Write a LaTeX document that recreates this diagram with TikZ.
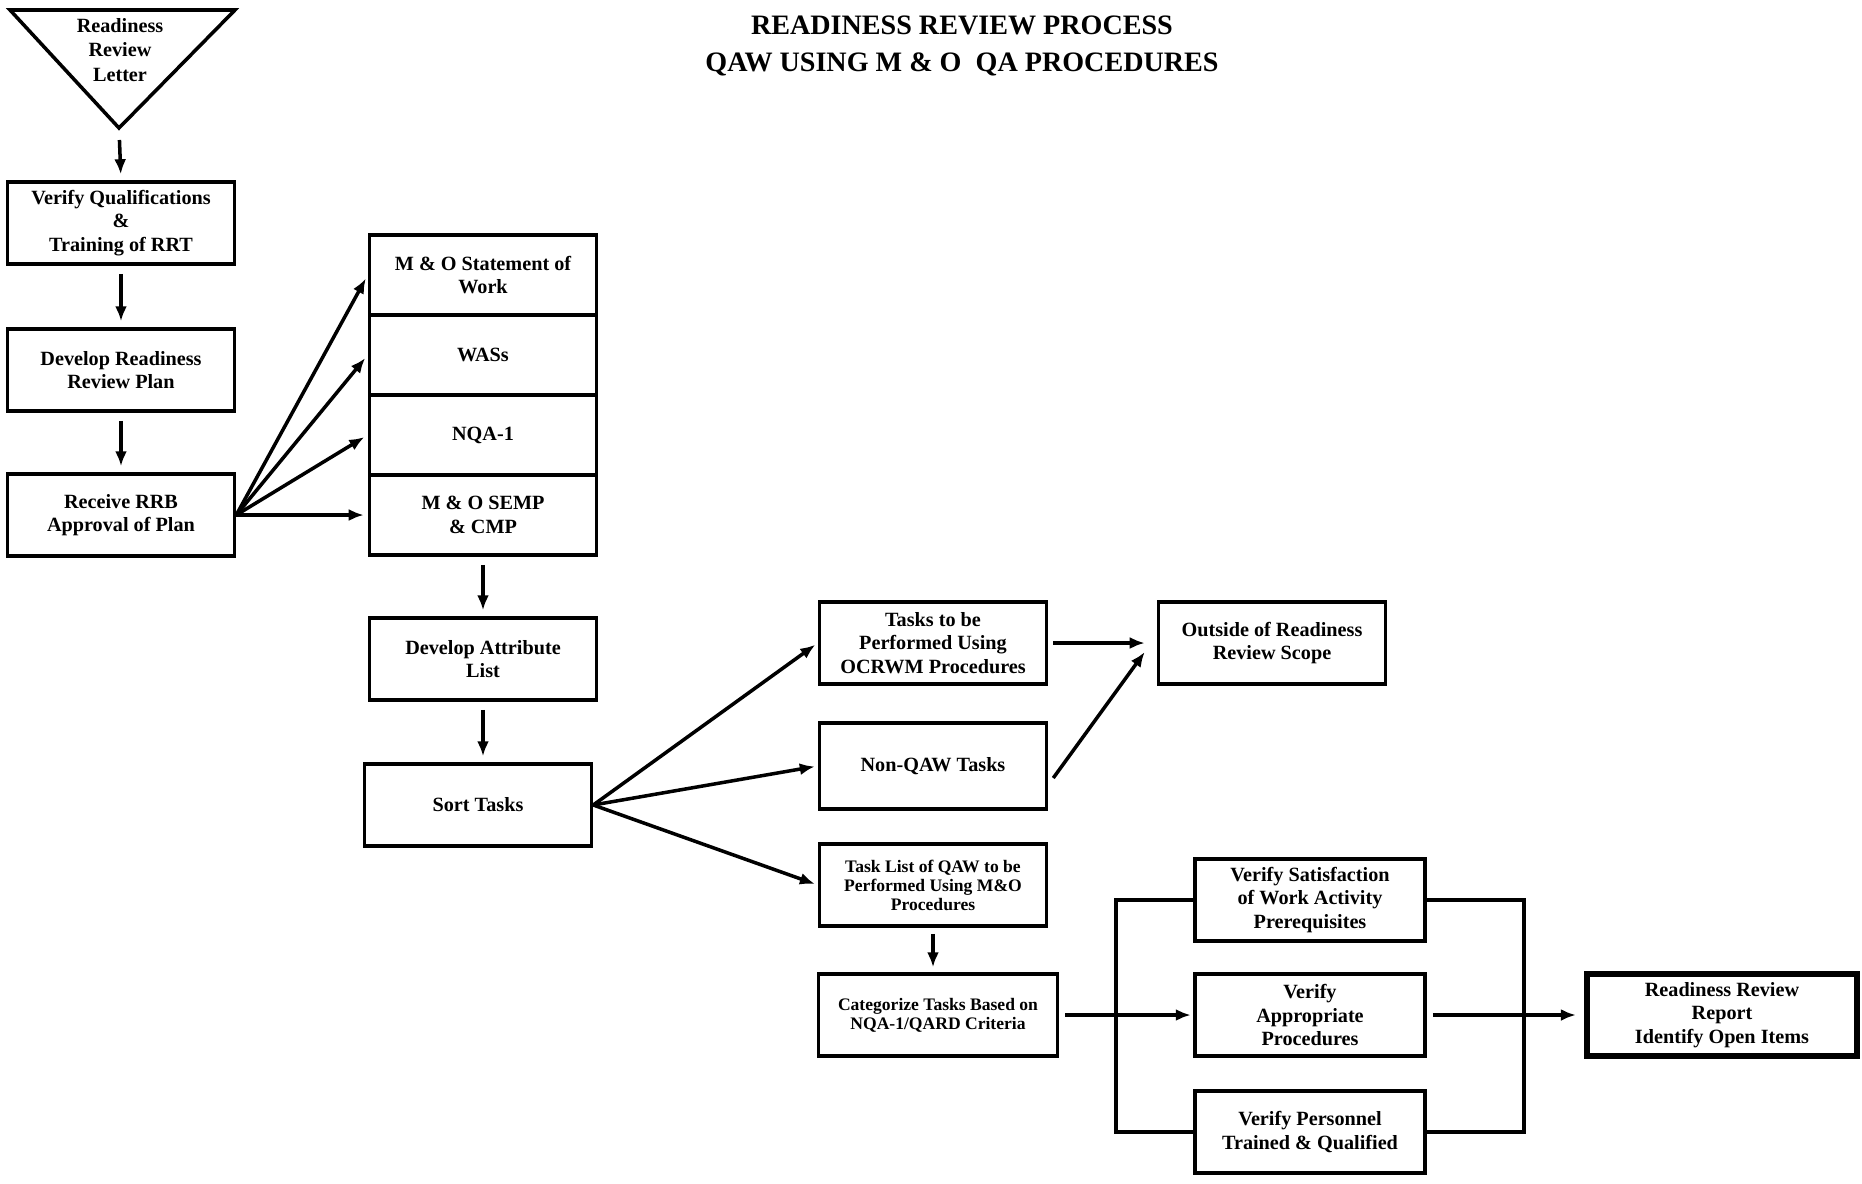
\documentclass[tikz,border=0pt]{standalone}
\usepackage{fontspec}
\setmainfont{Liberation Serif}
\usetikzlibrary{arrows.meta, calc}
\tikzset{
  every picture/.style={font=\bfseries, line width=2pt},
  box/.style={draw, align=center, inner sep=2pt, minimum width=45.4mm, minimum height=16.4mm,
    font=\bfseries\fontsize{11.5}{13.5}\selectfont},
  arrow/.style={-{Latex[length=3mm, width=2.4mm]}, line width=2pt},
  line/.style={line width=2pt},
  title/.style={font=\bfseries\fontsize{16}{21}\selectfont, align=center},
}
\begin{document}
\begin{tikzpicture}[x=0.2mm, y=-0.2mm, small/.style={font=\bfseries\fontsize{10}{10.8}\selectfont}]
  \useasboundingbox (0,0) rectangle (1862,1183);
  \node[title] (head) at (962,46) {READINESS REVIEW PROCESS\\QAW USING M \& O\ \ QA PROCEDURES};
  % letter triangle
  \coordinate (apex) at (119,128);
  \draw[line] (10,10) -- (235,10) -- (apex) -- cycle;
  \node[align=center, font=\bfseries\fontsize{11.5}{14}\selectfont] (letter) at (120,50) {Readiness\\Review\\Letter};
  % left column
  \node[box] (vq) at (121,223) {Verify Qualifications\\\&\\Training of RRT};
  \node[box] (drp) at (121,370) {Develop Readiness\\Review Plan};
  \node[box] (rrb) at (121,515) {Receive RRB\\Approval of Plan};
  % stacked inputs
  \node[box, minimum height=16mm] (sow) at (483,275) {M \& O Statement of\\Work};
  \node[box, minimum height=16mm] (was) at (483,355) {WASs};
  \node[box, minimum height=16mm] (nqa) at (483,435) {NQA-1};
  \node[box, minimum height=16mm] (semp) at (483,515) {M \& O SEMP\\\& CMP};
  \node[box] (dal) at (483,659) {Develop Attribute\\List};
  \node[box] (sort) at (478,805) {Sort Tasks};
  % task groups
  \node[box] (ocrwm) at (933,643) {Tasks to be\\Performed Using\\OCRWM Procedures};
  \node[box, minimum height=17.2mm] (nonqaw) at (933,766) {Non-QAW Tasks};
  \node[box, small] (qaw) at (933,885) {Task List of QAW to be\\Performed Using M\&O\\Procedures};
  \node[box, small, minimum width=47.8mm] (cat) at (938,1015) {Categorize Tasks Based on\\NQA-1/QARD Criteria};
  \node[box] (outside) at (1272,643) {Outside of Readiness\\Review Scope};
  % verification
  \node[box, minimum width=46mm] (vs) at (1310,900) {Verify Satisfaction\\of Work Activity\\Prerequisites};
  \node[box, minimum width=46mm] (va) at (1310,1015) {Verify\\Appropriate\\Procedures};
  \node[box, minimum width=46mm] (vp) at (1310,1132) {Verify Personnel\\Trained \& Qualified};
  \node[box, minimum width=54mm, line width=3.6pt] (report) at (1722,1015) {Readiness Review\\Report\\Identify Open Items};

  \draw[arrow, shorten <=2.4mm, shorten >=1.2mm] (apex) -- (vq.north);
  \foreach \a/\b in {vq/drp, drp/rrb, semp/dal}
    \draw[arrow, shorten <=1.6mm, shorten >=1.2mm] (\a) -- (\b);
  \draw[arrow, shorten <=1.6mm, shorten >=1.2mm] (dal.south) -- (dal.south |- sort.north);
  \foreach \n in {sow, was, nqa, semp}
    \draw[arrow, shorten >=0.8mm] (rrb.east) -- (\n.west);
  \foreach \n in {ocrwm, nonqaw, qaw}
    \draw[arrow, shorten >=0.6mm] (sort.east) -- (\n.west);
  \draw[arrow, shorten <=1mm, shorten >=2.4mm] (ocrwm) -- (outside);
  \draw[arrow] ([xshift=1mm, yshift=-2.4mm]nonqaw.east) -- ([xshift=-2.4mm, yshift=-1.8mm]outside.west);
  \draw[arrow, shorten <=1.2mm, shorten >=1mm] (qaw.south) -- (qaw.south |- cat.north);
  \draw[arrow, shorten <=1.2mm, shorten >=0.5mm] (cat.east) -- (va.west);
  \coordinate (lsplit) at (1116,1015);
  \coordinate (rsplit) at (1524,1015);
  \draw[line] (vs.west) -| (lsplit) |- (vp.west);
  \draw[line] (vs.east) -| (rsplit) |- (vp.east);
  \draw[arrow, shorten <=1.2mm, shorten >=1.6mm] (va.east) -- (report.west);
\end{tikzpicture}
\end{document}
